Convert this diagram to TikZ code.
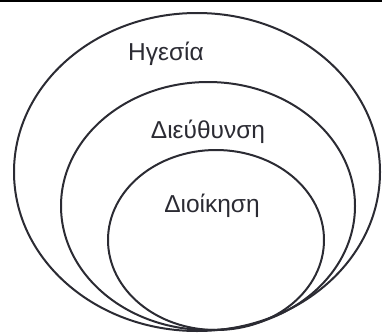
\documentclass[tikz,border=0pt]{standalone}
\usepackage{fontspec}
\setmainfont{Liberation Sans}
\usepackage{xcolor}
\usepackage{tikz}
\definecolor{inkgray}{rgb}{0.17,0.17,0.20}
\tikzset{
  ring/.style={draw=inkgray, line width=2pt},
  lbl/.style={anchor=base, text=inkgray, font=\fontsize{24.5}{28}\selectfont}
}
\begin{document}
\begin{tikzpicture}[x=1pt,y=1pt]
    \useasboundingbox (0,0) rectangle (382,333);

    % top rule
    \draw[black, line width=2pt] (0,332) -- (382,332);

    % nested ellipses
    \draw[ring] (197,161) ellipse [x radius=183pt, y radius=159pt];
    \draw[ring] (208,127) ellipse [x radius=147pt, y radius=124pt];
    \draw[ring] (216,93) ellipse [x radius=108pt, y radius=90pt];

    % labels
    \node[lbl] (hgesia) at (166,273) {Ηγεσία};
    \node[lbl] (dieuthynsi) at (208,195) {Διεύθυνση};
    \node[lbl] (dioikisi) at (212,121) {Διοίκηση};
\end{tikzpicture}
\end{document}
